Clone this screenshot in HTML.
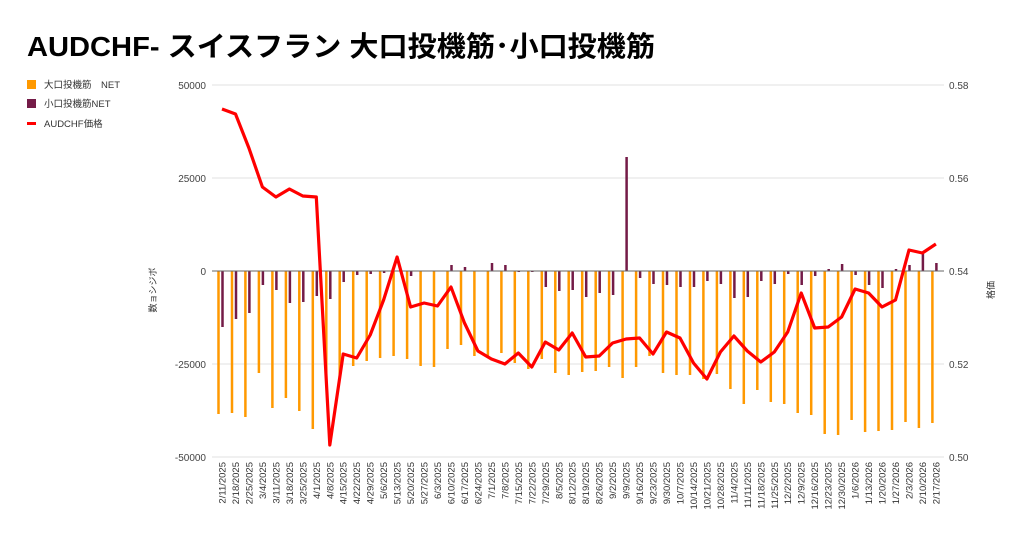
<!DOCTYPE html>
<html><head><meta charset="utf-8"><style>
body{margin:0;background:#fff;}
svg{display:block;font-family:"Liberation Sans","Noto Sans CJK JP",sans-serif;}
</style></head><body>
<svg width="1024" height="540" viewBox="0 0 1024 540">
<text x="27" y="56" font-size="28" font-weight="bold" fill="#000" textLength="628" lengthAdjust="spacingAndGlyphs">AUDCHF- スイスフラン 大口投機筋･小口投機筋</text>
<rect x="27" y="80" width="9" height="9" fill="#ff9900"/>
<text x="44" y="88" font-size="9.5" fill="#333">大口投機筋　NET</text>
<rect x="27" y="99" width="9" height="9" fill="#741b47"/>
<text x="44" y="107" font-size="9.5" fill="#333">小口投機筋NET</text>
<rect x="27" y="122" width="9" height="3" fill="#ff0000"/>
<text x="44" y="127" font-size="9.5" fill="#333">AUDCHF価格</text>
<g stroke="#e0e0e0" stroke-width="1">
<line x1="212" y1="85" x2="944" y2="85"/><line x1="212" y1="178" x2="944" y2="178"/><line x1="212" y1="364" x2="944" y2="364"/><line x1="212" y1="457" x2="944" y2="457"/>
</g>
<g font-size="10" fill="#444" text-anchor="end">
<text x="206" y="89">50000</text><text x="206" y="182">25000</text><text x="206" y="275">0</text><text x="206" y="368">-25000</text><text x="206" y="461">-50000</text>
</g>
<g font-size="10" fill="#444">
<text x="949" y="89">0.58</text><text x="949" y="182">0.56</text><text x="949" y="275">0.54</text><text x="949" y="368">0.52</text><text x="949" y="461">0.50</text>
</g>
<text transform="translate(156,290) rotate(-90)" font-size="9" fill="#333" text-anchor="middle">数ョシジボ</text>
<text transform="translate(994,290) rotate(-90)" font-size="9" fill="#333" text-anchor="middle">格価</text>
<path stroke="#ff9900" stroke-width="2.5" fill="none" d="M218.5 271V414M232 271V413M245.4 271V417M258.9 271V373M272.4 271V408M285.9 271V398M299.3 271V411M312.8 271V429M326.3 271V383M339.7 271V377M353.2 271V366M366.7 271V361M380.1 271V358M393.6 271V356M407.1 271V359M420.6 271V366M434 271V367M447.5 271V349M461 271V345M474.4 271V356M487.9 271V358M501.4 271V353M514.8 271V363M528.3 271V369M541.8 271V359M555.3 271V373M568.7 271V375M582.2 271V372M595.7 271V371M609.1 271V367M622.6 271V378M636.1 271V367M649.5 271V356M663 271V373M676.5 271V375M690 271V375M703.4 271V379M716.9 271V374M730.4 271V389M743.8 271V404M757.3 271V390M770.8 271V402M784.2 271V404M797.7 271V413M811.2 271V415M824.7 271V434M838.1 271V435M851.6 271V420M865.1 271V432M878.5 271V431M892 271V430M905.5 271V422M918.9 271V428M932.4 271V423"/>
<path stroke="#741b47" stroke-width="2.5" fill="none" d="M222.5 271V327M236 271V319M249.4 271V313M262.9 271V285M276.4 271V290M289.9 271V303M303.3 271V302M316.8 271V296M330.3 271V299M343.7 271V282M357.2 271V275M370.7 271V274M384.1 271V273M411.1 271V276M451.5 271V265M465 271V267M492 271V263M505.4 271V265M518.8 271V272M532.3 271V272M545.8 271V287M559.3 271V291M572.7 271V290M586.2 271V297M599.7 271V293M613.1 271V295M626.6 271V157M640.1 271V278M653.5 271V284M667 271V285M680.5 271V287M694 271V287M707.4 271V281M720.9 271V284M734.4 271V298M747.8 271V297M761.3 271V281M774.8 271V284M788.2 271V274M801.7 271V285M815.2 271V276M828.7 271V269M842.1 271V264M855.6 271V275M869.1 271V285M882.5 271V288M896 271V269M909.5 271V265M922.9 271V254M936.4 271V263"/>
<line x1="212" y1="271" x2="944" y2="271" stroke="#666" stroke-width="1"/>
<polyline fill="none" stroke="#ff0000" stroke-width="3.2" stroke-linejoin="round" points="222,109 235.5,114 248.9,148 262.4,187 275.9,197 289.4,189 302.8,196 316.3,197 329.8,445 343.2,354 356.7,358 370.2,335 383.6,300 397.1,257 410.6,307 424.1,303 437.5,306 451,287 464.5,323 477.9,351 491.4,359 504.9,364 518.3,353 531.8,367 545.3,342 558.8,350 572.2,333 585.7,357 599.2,356 612.6,343 626.1,339 639.6,338 653,354 666.5,332 680,338 693.5,363 706.9,379 720.4,352 733.9,336 747.3,351 760.8,362 774.3,352 787.7,332 801.2,293 814.7,328 828.2,327 841.6,317 855.1,289 868.6,293 882,307 895.5,300 909,250 922.4,253 935.9,244"/>
<g font-size="9.5" fill="#333" text-anchor="end">
<text transform="translate(225.5,462) rotate(-90)">2/11/2025</text>
<text transform="translate(239,462) rotate(-90)">2/18/2025</text>
<text transform="translate(252.4,462) rotate(-90)">2/25/2025</text>
<text transform="translate(265.9,462) rotate(-90)">3/4/2025</text>
<text transform="translate(279.4,462) rotate(-90)">3/11/2025</text>
<text transform="translate(292.9,462) rotate(-90)">3/18/2025</text>
<text transform="translate(306.3,462) rotate(-90)">3/25/2025</text>
<text transform="translate(319.8,462) rotate(-90)">4/1/2025</text>
<text transform="translate(333.3,462) rotate(-90)">4/8/2025</text>
<text transform="translate(346.7,462) rotate(-90)">4/15/2025</text>
<text transform="translate(360.2,462) rotate(-90)">4/22/2025</text>
<text transform="translate(373.7,462) rotate(-90)">4/29/2025</text>
<text transform="translate(387.1,462) rotate(-90)">5/6/2025</text>
<text transform="translate(400.6,462) rotate(-90)">5/13/2025</text>
<text transform="translate(414.1,462) rotate(-90)">5/20/2025</text>
<text transform="translate(427.6,462) rotate(-90)">5/27/2025</text>
<text transform="translate(441,462) rotate(-90)">6/3/2025</text>
<text transform="translate(454.5,462) rotate(-90)">6/10/2025</text>
<text transform="translate(468,462) rotate(-90)">6/17/2025</text>
<text transform="translate(481.4,462) rotate(-90)">6/24/2025</text>
<text transform="translate(494.9,462) rotate(-90)">7/1/2025</text>
<text transform="translate(508.4,462) rotate(-90)">7/8/2025</text>
<text transform="translate(521.8,462) rotate(-90)">7/15/2025</text>
<text transform="translate(535.3,462) rotate(-90)">7/22/2025</text>
<text transform="translate(548.8,462) rotate(-90)">7/29/2025</text>
<text transform="translate(562.3,462) rotate(-90)">8/5/2025</text>
<text transform="translate(575.7,462) rotate(-90)">8/12/2025</text>
<text transform="translate(589.2,462) rotate(-90)">8/19/2025</text>
<text transform="translate(602.7,462) rotate(-90)">8/26/2025</text>
<text transform="translate(616.1,462) rotate(-90)">9/2/2025</text>
<text transform="translate(629.6,462) rotate(-90)">9/9/2025</text>
<text transform="translate(643.1,462) rotate(-90)">9/16/2025</text>
<text transform="translate(656.5,462) rotate(-90)">9/23/2025</text>
<text transform="translate(670,462) rotate(-90)">9/30/2025</text>
<text transform="translate(683.5,462) rotate(-90)">10/7/2025</text>
<text transform="translate(697,462) rotate(-90)">10/14/2025</text>
<text transform="translate(710.4,462) rotate(-90)">10/21/2025</text>
<text transform="translate(723.9,462) rotate(-90)">10/28/2025</text>
<text transform="translate(737.4,462) rotate(-90)">11/4/2025</text>
<text transform="translate(750.8,462) rotate(-90)">11/11/2025</text>
<text transform="translate(764.3,462) rotate(-90)">11/18/2025</text>
<text transform="translate(777.8,462) rotate(-90)">11/25/2025</text>
<text transform="translate(791.2,462) rotate(-90)">12/2/2025</text>
<text transform="translate(804.7,462) rotate(-90)">12/9/2025</text>
<text transform="translate(818.2,462) rotate(-90)">12/16/2025</text>
<text transform="translate(831.7,462) rotate(-90)">12/23/2025</text>
<text transform="translate(845.1,462) rotate(-90)">12/30/2025</text>
<text transform="translate(858.6,462) rotate(-90)">1/6/2026</text>
<text transform="translate(872.1,462) rotate(-90)">1/13/2026</text>
<text transform="translate(885.5,462) rotate(-90)">1/20/2026</text>
<text transform="translate(899,462) rotate(-90)">1/27/2026</text>
<text transform="translate(912.5,462) rotate(-90)">2/3/2026</text>
<text transform="translate(925.9,462) rotate(-90)">2/10/2026</text>
<text transform="translate(939.4,462) rotate(-90)">2/17/2026</text>
</g>
</svg>
</body></html>
